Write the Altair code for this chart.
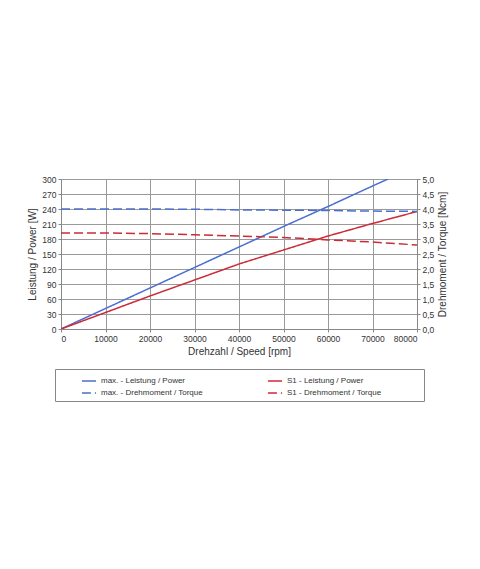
import altair as alt
import pandas as pd

rpm = [0, 10000, 20000, 30000, 40000, 50000, 60000, 70000, 73500, 80000]
max_power = [0, 41, 82, 123, 164, 205, 245, 286, 300, None]
s1_power = [0, 33, 66, 98, 130, 158, 186, 211, None, 235]
rpm_t = [0, 10000, 20000, 30000, 40000, 50000, 60000, 70000, 80000]
max_torque = [4.0, 4.0, 4.0, 3.99, 3.97, 3.96, 3.95, 3.93, 3.92]
s1_torque = [3.2, 3.2, 3.18, 3.14, 3.1, 3.05, 2.97, 2.9, 2.8]

names = ["max. - Leistung / Power", "S1 - Leistung / Power",
         "max. - Drehmoment / Torque", "S1 - Drehmoment / Torque"]
colors = ["#4a6fd0", "#cc2a36", "#4a6fd0", "#cc2a36"]
dashes = [[1, 0], [1, 0], [9, 4], [9, 4]]

rows_p = []
for i, n in enumerate(rpm):
    if max_power[i] is not None:
        rows_p.append({"rpm": n, "v": max_power[i], "s": names[0]})
    if s1_power[i] is not None:
        rows_p.append({"rpm": n, "v": s1_power[i], "s": names[1]})
rows_t = []
for i, n in enumerate(rpm_t):
    rows_t.append({"rpm": n, "v": max_torque[i], "s": names[2]})
    rows_t.append({"rpm": n, "v": s1_torque[i], "s": names[3]})

dfp = pd.DataFrame(rows_p)
dft = pd.DataFrame(rows_t)

font = "Liberation Sans"
color = alt.Color("s:N", scale=alt.Scale(domain=names, range=colors),
                  legend=alt.Legend(title="MMMMM", titleOrient="right", titleFontSize=8,
                                    titleOpacity=0, titleFont=font,
                                    orient="none", legendX=-6, legendY=190,
                                    columns=2, direction="horizontal",
                                    strokeColor="#888", padding=4, columnPadding=42,
                                    symbolType="stroke", symbolStrokeWidth=1.5,
                                    symbolSize=200, labelFont=font, labelFontSize=8,
                                    labelColor="#333", rowPadding=0, symbolOffset=22,
                                    labelLimit=200, gridAlign="all"))
dash = alt.StrokeDash("s:N", scale=alt.Scale(domain=names, range=dashes), legend=None)

x = alt.X("rpm:Q", scale=alt.Scale(domain=[0, 80000]),
          axis=alt.Axis(title="Drehzahl / Speed [rpm]", values=list(range(0, 80001, 10000)),
                        format="d", labelFont=font, labelFontSize=8.5, titleFont=font,
                        titleFontSize=10, titleFontWeight="normal", titleColor="#333",
                        labelColor="#333", grid=True, gridColor="#9a9a9a",
                        domainColor="#888", tickColor="#888", tickSize=3, titlePadding=4))

power = alt.Chart(dfp).mark_line(strokeWidth=1.5, clip=True).encode(
    x=x,
    y=alt.Y("v:Q", scale=alt.Scale(domain=[0, 300]),
            axis=alt.Axis(title="Leistung / Power [W]", values=list(range(0, 301, 30)),
                          labelFont=font, labelFontSize=8.5, titleFont=font, titleFontSize=10,
                          titleFontWeight="normal", titleColor="#333", labelColor="#333",
                          grid=True, gridColor="#9a9a9a", domainColor="#888",
                          tickColor="#888", tickSize=3, titlePadding=4)),
    color=color, strokeDash=dash, detail="s:N",
)

torque = alt.Chart(dft).mark_line(strokeWidth=1.5, clip=True).encode(
    x=x,
    y=alt.Y("v:Q", scale=alt.Scale(domain=[0, 5]),
            axis=alt.Axis(title="Drehmoment / Torque [Ncm]", orient="right",
                          values=[i * 0.5 for i in range(11)],
                          labelExpr="replace(format(datum.value, '.1f'), '.', ',')",
                          labelFont=font, labelFontSize=8.5, titleFont=font, titleFontSize=10,
                          titleFontWeight="normal", titleColor="#333", labelColor="#333",
                          grid=False, domainColor="#888", tickColor="#888", tickSize=3,
                          titlePadding=4, titleAngle=270, titleBaseline="top")),
    color=color, strokeDash=dash, detail="s:N",
)

chart = alt.layer(power, torque).resolve_scale(y="independent").properties(
    width=356, height=150,
    autosize=alt.AutoSizeParams(type="none"),
    padding={"left": 53, "top": 171, "right": 50, "bottom": 240},
).configure_view(stroke="#888", strokeWidth=1).configure(background="white")

chart.save("out.html", embed_options={"renderer": "svg", "actions": False})
